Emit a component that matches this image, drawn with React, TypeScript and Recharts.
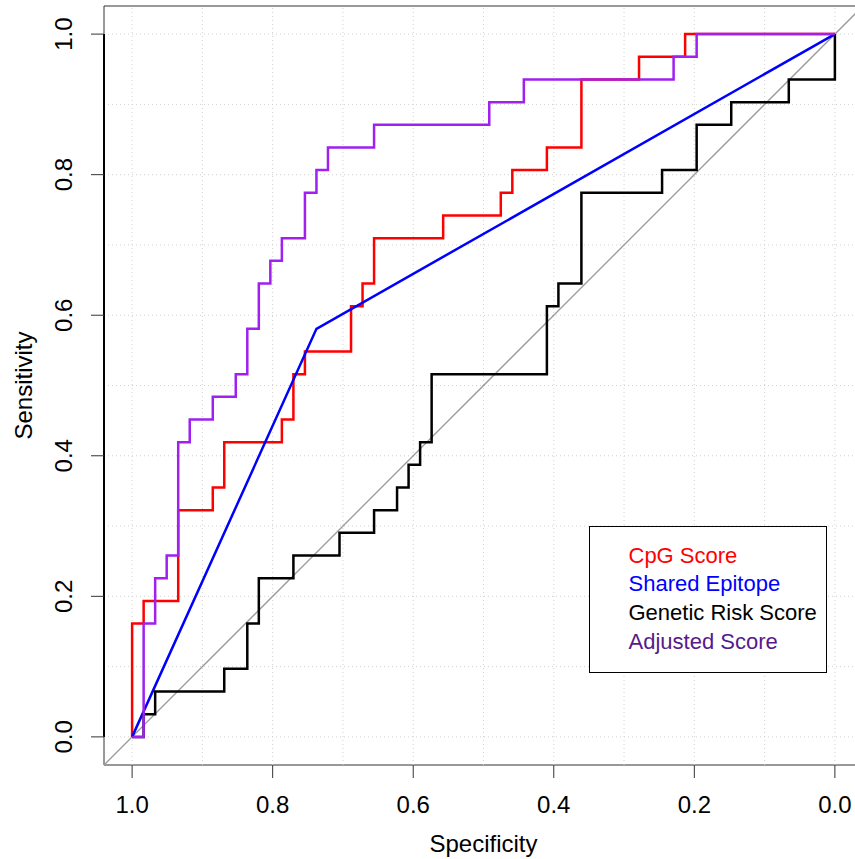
import React from 'react';
import { LineChart, Line, XAxis, YAxis, ReferenceLine, ReferenceArea, Legend } from 'recharts';

// ---- Data (specificity / sensitivity vertices of each ROC curve) ----
const CPG_SPEC = [1, 1, 0.9836, 0.9836, 0.9344, 0.9344, 0.8852, 0.8852, 0.8689, 0.8689, 0.7869, 0.7869, 0.7705, 0.7705, 0.7541, 0.7541, 0.6885, 0.6885, 0.6721, 0.6721, 0.6557, 0.6557, 0.5574, 0.5574, 0.4754, 0.4754, 0.459, 0.459, 0.4098, 0.4098, 0.3607, 0.3607, 0.2787, 0.2787, 0.2131, 0.2131, 0];
const CPG_SENS = [0, 0.1613, 0.1613, 0.1935, 0.1935, 0.3226, 0.3226, 0.3548, 0.3548, 0.4194, 0.4194, 0.4516, 0.4516, 0.5161, 0.5161, 0.5484, 0.5484, 0.6129, 0.6129, 0.6452, 0.6452, 0.7097, 0.7097, 0.7419, 0.7419, 0.7742, 0.7742, 0.8065, 0.8065, 0.8387, 0.8387, 0.9355, 0.9355, 0.9677, 0.9677, 1, 1];

const SE_SPEC = [1, 0.7377, 0];
const SE_SENS = [0, 0.5806, 1];

const GRS_SPEC = [1, 0.9836, 0.9836, 0.9672, 0.9672, 0.8689, 0.8689, 0.8361, 0.8361, 0.8197, 0.8197, 0.7705, 0.7705, 0.7049, 0.7049, 0.6557, 0.6557, 0.623, 0.623, 0.6066, 0.6066, 0.5902, 0.5902, 0.5738, 0.5738, 0.4098, 0.4098, 0.3934, 0.3934, 0.3607, 0.3607, 0.2459, 0.2459, 0.1967, 0.1967, 0.1475, 0.1475, 0.0656, 0.0656, 0, 0];
const GRS_SENS = [0, 0, 0.0323, 0.0323, 0.0645, 0.0645, 0.0968, 0.0968, 0.1613, 0.1613, 0.2258, 0.2258, 0.2581, 0.2581, 0.2903, 0.2903, 0.3226, 0.3226, 0.3548, 0.3548, 0.3871, 0.3871, 0.4194, 0.4194, 0.5161, 0.5161, 0.6129, 0.6129, 0.6452, 0.6452, 0.7742, 0.7742, 0.8065, 0.8065, 0.871, 0.871, 0.9032, 0.9032, 0.9355, 0.9355, 1];

const ADJ_SPEC = [1, 0.9836, 0.9836, 0.9672, 0.9672, 0.9508, 0.9508, 0.9344, 0.9344, 0.918, 0.918, 0.8852, 0.8852, 0.8525, 0.8525, 0.8361, 0.8361, 0.8197, 0.8197, 0.8033, 0.8033, 0.7869, 0.7869, 0.7541, 0.7541, 0.7377, 0.7377, 0.7213, 0.7213, 0.6557, 0.6557, 0.4918, 0.4918, 0.4426, 0.4426, 0.2295, 0.2295, 0.1967, 0.1967, 0];
const ADJ_SENS = [0, 0, 0.1613, 0.1613, 0.2258, 0.2258, 0.2581, 0.2581, 0.4194, 0.4194, 0.4516, 0.4516, 0.4839, 0.4839, 0.5161, 0.5161, 0.5806, 0.5806, 0.6452, 0.6452, 0.6774, 0.6774, 0.7097, 0.7097, 0.7742, 0.7742, 0.8065, 0.8065, 0.8387, 0.8387, 0.871, 0.871, 0.9032, 0.9032, 0.9355, 0.9355, 0.9677, 0.9677, 1, 1];

const X_TICKS = [1.0, 0.8, 0.6, 0.4, 0.2, 0.0];
const Y_TICKS = [0.0, 0.2, 0.4, 0.6, 0.8, 1.0];
const GRID_VALUES = [0, 0.1, 0.2, 0.3, 0.4, 0.5, 0.6, 0.7, 0.8, 0.9, 1.0];
const DOMAIN: [number, number] = [-0.04, 1.04];

const SERIES_NAMES = ['CpG Score', 'Shared Epitope', 'Genetic Risk Score', 'Adjusted Score'];
const LINE_COLORS = ['#FF0000', '#0000FF', '#000000', '#A020F0'];
const LABEL_COLORS = ['#FF0000', '#0000FF', '#000000', '#551A8B'];

const FONT = '"Liberation Sans", Arial, Helvetica, sans-serif';

const toPoints = (spec: number[], sens: number[]) => spec.map((s, i) => ({ spec: s, sens: sens[i] }));

const SERIES = [
  toPoints(CPG_SPEC, CPG_SENS),
  toPoints(SE_SPEC, SE_SENS),
  toPoints(GRS_SPEC, GRS_SENS),
  toPoints(ADJ_SPEC, ADJ_SENS),
];

const XTick = (props: any) => {
  const { x, y, payload } = props;
  return (
    <text x={x} y={y + 35} textAnchor="middle" fontSize={24} fontFamily={FONT} fill="#000">
      {Number(payload.value).toFixed(1)}
    </text>
  );
};

const YTick = (props: any) => {
  const { x, y, payload } = props;
  const tx = x - 19;
  return (
    <text x={tx} y={y} transform={`rotate(-90, ${tx}, ${y})`} textAnchor="middle" fontSize={24} fontFamily={FONT} fill="#000">
      {Number(payload.value).toFixed(1)}
    </text>
  );
};

const XLabel = (props: any) => {
  const vb = props.viewBox || { x: 0, y: 0, width: 0, height: 0 };
  return (
    <text x={vb.x + vb.width / 2} y={vb.y + 87} textAnchor="middle" fontSize={24} fontFamily={FONT} fill="#000">
      Specificity
    </text>
  );
};

const YLabel = (props: any) => {
  const vb = props.viewBox || { x: 0, y: 0, width: 0, height: 0 };
  const tx = vb.x + 32;
  const ty = vb.y + vb.height / 2;
  return (
    <text x={tx} y={ty} transform={`rotate(-90, ${tx}, ${ty})`} textAnchor="middle" fontSize={24} fontFamily={FONT} fill="#000">
      Sensitivity
    </text>
  );
};

const LegendBox = () => (
  <div
    style={{
      boxSizing: 'border-box',
      width: 238,
      height: 147,
      border: '1.5px solid #000',
      background: '#fff',
      padding: '14.7px 0 0 38.5px',
      fontFamily: FONT,
      fontSize: 22,
      textAlign: 'left',
    }}
  >
    {SERIES_NAMES.map((n, i) => (
      <div key={n} style={{ lineHeight: '28.8px', height: 28.8, color: LABEL_COLORS[i], whiteSpace: 'nowrap' }}>
        {n}
      </div>
    ))}
  </div>
);

export default function App() {
  return (
    <div style={{ position: 'fixed', left: 0, top: 0, width: 855, height: 859, overflow: 'hidden', background: '#fff' }}>
      <LineChart width={863} height={859} margin={{ top: 6, right: 0, bottom: 0, left: 0 }}>
        <XAxis
          type="number"
          dataKey="spec"
          domain={DOMAIN}
          reversed
          allowDataOverflow
          ticks={X_TICKS}
          interval={0}
          tick={<XTick />}
          tickSize={13}
          tickMargin={0}
          tickLine={{ stroke: '#333', strokeWidth: 1 }}
          axisLine={false}
          height={94}
          label={XLabel}
        />
        <YAxis
          type="number"
          dataKey="sens"
          domain={DOMAIN}
          allowDataOverflow
          ticks={Y_TICKS}
          interval={0}
          tick={<YTick />}
          tickSize={13}
          tickMargin={0}
          tickLine={{ stroke: '#333', strokeWidth: 1 }}
          axisLine={false}
          width={104}
          label={YLabel}
        />
        {GRID_VALUES.map((v) => (
          <ReferenceLine key={'gx' + v} x={v} stroke="#d0d0d0" strokeWidth={1} strokeDasharray="1 3" ifOverflow="visible" />
        ))}
        {GRID_VALUES.map((v) => (
          <ReferenceLine key={'gy' + v} y={v} stroke="#d0d0d0" strokeWidth={1} strokeDasharray="1 3" ifOverflow="visible" />
        ))}
        <ReferenceLine
          segment={[{ x: DOMAIN[1], y: DOMAIN[0] }, { x: DOMAIN[0], y: DOMAIN[1] }]}
          stroke="#999999"
          strokeWidth={1.3}
          ifOverflow="visible"
        />
        <ReferenceArea x1={DOMAIN[0]} x2={DOMAIN[1]} y1={DOMAIN[0]} y2={DOMAIN[1]} fill="none" fillOpacity={0} stroke="#333" strokeWidth={1} ifOverflow="visible" />
        <ReferenceLine segment={[{ x: DOMAIN[1], y: 0 }, { x: DOMAIN[1], y: 1 }]} stroke="#000" strokeWidth={2} ifOverflow="visible" />
        {SERIES.map((d, i) => (
          <Line
            key={SERIES_NAMES[i]}
            data={d}
            dataKey="sens"
            name={SERIES_NAMES[i]}
            type="linear"
            stroke={LINE_COLORS[i]}
            strokeWidth={2.5}
            dot={false}
            activeDot={false}
            isAnimationActive={false}
          />
        ))}
        <Legend
          layout="horizontal"
          verticalAlign="middle"
          align="center"
          wrapperStyle={{ position: 'absolute', left: 589, top: 526, width: 238, height: 147 }}
          content={() => <LegendBox />}
        />
      </LineChart>
    </div>
  );
}
